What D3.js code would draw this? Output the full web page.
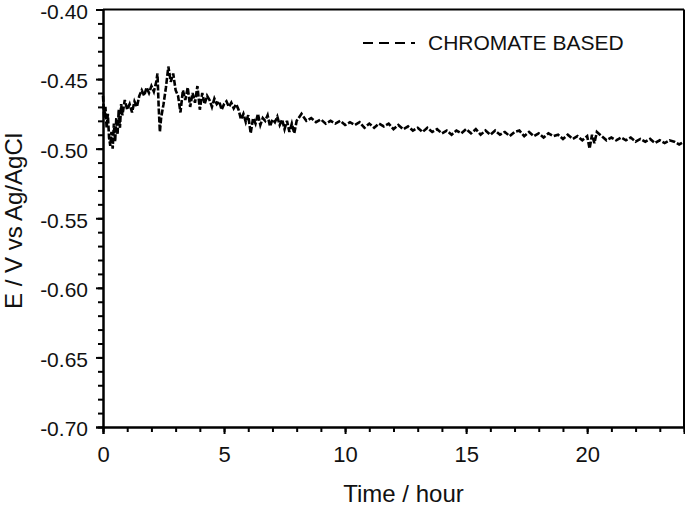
<!DOCTYPE html>
<html>
<head>
<meta charset="utf-8">
<script src="https://cdn.jsdelivr.net/npm/d3@7"></script>
<style>
  body { margin: 0; background: #fff; }
  text { font-family: "Liberation Sans", Arial, sans-serif; fill: #111; }
</style>
</head>
<body>
<div id="chart"></div>
<script>
// time in hours
var time_h = [0.0,0.05,0.1,0.15,0.2,0.25,0.3,0.35,0.4,0.45,0.5,0.55,0.6,0.65,0.7,0.75,0.8,0.9,1.0,1.1,
  1.2,1.3,1.4,1.5,1.6,1.7,1.8,1.9,2.0,2.1,2.2,2.25,2.3,2.35,2.4,2.5,2.6,2.7,2.8,2.9,
  3.0,3.1,3.2,3.3,3.4,3.5,3.6,3.7,3.8,3.9,4.0,4.1,4.2,4.3,4.4,4.5,4.6,4.7,4.8,4.9,
  5.0,5.1,5.2,5.3,5.4,5.5,5.6,5.7,5.8,5.9,6.0,6.1,6.2,6.3,6.4,6.5,6.6,6.7,6.8,6.9,
  7.0,7.1,7.2,7.3,7.4,7.5,7.6,7.7,7.8,7.9,8.0,8.2,8.4,8.6,8.8,9.0,9.2,9.4,9.6,9.8,
  10.0,10.2,10.4,10.6,10.8,11.0,11.2,11.4,11.6,11.8,12.0,12.2,12.4,12.6,12.8,13.0,13.2,13.4,13.6,13.8,
  14.0,14.2,14.4,14.6,14.8,15.0,15.2,15.4,15.6,15.8,16.0,16.2,16.4,16.6,16.8,17.0,17.2,17.4,17.6,17.8,
  18.0,18.2,18.4,18.6,18.8,19.0,19.2,19.4,19.6,19.8,20.0,20.1,20.2,20.3,20.4,20.6,20.8,21.0,21.2,21.4,
  21.6,21.8,22.0,22.2,22.4,22.6,22.8,23.0,23.2,23.4,23.6,23.8,24.0];
// potential, V vs Ag/AgCl
var chromate = [-0.462,-0.478,-0.470,-0.485,-0.475,-0.492,-0.498,-0.488,-0.500,-0.482,-0.495,-0.478,-0.490,-0.472,-0.485,-0.468,-0.476,-0.465,-0.472,-0.468,
  -0.474,-0.466,-0.470,-0.462,-0.458,-0.462,-0.456,-0.460,-0.455,-0.459,-0.452,-0.446,-0.470,-0.488,-0.478,-0.468,-0.456,-0.441,-0.452,-0.446,
  -0.458,-0.462,-0.474,-0.458,-0.465,-0.456,-0.470,-0.460,-0.467,-0.455,-0.472,-0.460,-0.468,-0.462,-0.465,-0.470,-0.464,-0.468,-0.466,-0.472,
  -0.468,-0.466,-0.470,-0.467,-0.471,-0.468,-0.472,-0.479,-0.475,-0.481,-0.476,-0.489,-0.478,-0.482,-0.475,-0.483,-0.478,-0.480,-0.476,-0.484,
  -0.479,-0.481,-0.477,-0.483,-0.479,-0.486,-0.480,-0.488,-0.482,-0.489,-0.480,-0.475,-0.480,-0.478,-0.481,-0.479,-0.482,-0.480,-0.482,-0.480,
  -0.483,-0.481,-0.483,-0.481,-0.485,-0.482,-0.485,-0.482,-0.484,-0.482,-0.486,-0.483,-0.486,-0.484,-0.487,-0.485,-0.488,-0.485,-0.488,-0.486,
  -0.489,-0.487,-0.490,-0.487,-0.489,-0.486,-0.489,-0.486,-0.490,-0.487,-0.490,-0.487,-0.490,-0.488,-0.491,-0.488,-0.487,-0.491,-0.488,-0.491,
  -0.489,-0.492,-0.489,-0.491,-0.490,-0.493,-0.490,-0.493,-0.491,-0.494,-0.491,-0.500,-0.490,-0.496,-0.488,-0.491,-0.494,-0.492,-0.494,-0.492,
  -0.494,-0.492,-0.495,-0.493,-0.495,-0.493,-0.496,-0.494,-0.496,-0.494,-0.495,-0.497,-0.495];
var x_ticks = [0,5,10,15,20];
var y_ticks = [-0.70,-0.65,-0.60,-0.55,-0.50,-0.45,-0.40];
var series_name = "CHROMATE BASED";

var W = 685, H = 508;
var plot_l = 103, plot_t = 9.5, plot_r = 684, plot_b = 427;

var svg = d3.select("#chart").append("svg")
  .attr("width", W).attr("height", H);

var x = d3.scaleLinear().domain([0, 24]).range([plot_l, plot_r]);
var y = d3.scaleLinear().domain([-0.70, -0.40]).range([plot_b, plot_t]);

// frame (top and right)
svg.append("line").attr("x1", plot_l).attr("x2", plot_r).attr("y1", plot_t).attr("y2", plot_t)
  .attr("stroke", "#000").attr("stroke-width", 2);
svg.append("line").attr("x1", plot_r).attr("x2", plot_r).attr("y1", plot_t).attr("y2", plot_b)
  .attr("stroke", "#000").attr("stroke-width", 2);

// minor + major ticks
var gx = svg.append("g").attr("transform", "translate(0," + plot_b + ")");
gx.call(d3.axisBottom(x).tickValues(d3.range(1, 24)).tickSize(5).tickFormat(""));
var gx2 = svg.append("g").attr("transform", "translate(0," + plot_b + ")");
gx2.call(d3.axisBottom(x).tickValues(x_ticks).tickSize(7).tickPadding(12).tickFormat(d3.format("d")));
gx2.selectAll("text").style("font-size", "22px").attr("fill", "#111");

var gy = svg.append("g").attr("transform", "translate(" + plot_l + ",0)");
gy.call(d3.axisLeft(y).tickValues(d3.range(-0.69, -0.40, 0.01)).tickSize(5).tickFormat(""));
var gy2 = svg.append("g").attr("transform", "translate(" + plot_l + ",0)");
gy2.call(d3.axisLeft(y).tickValues(y_ticks).tickSize(7).tickPadding(8)
  .tickFormat(function(d) { return d.toFixed(2); }));
gy2.selectAll("text").style("font-size", "21px").attr("fill", "#111").attr("dy", "0.42em");

svg.selectAll(".domain").attr("stroke", "#000").attr("stroke-width", 2);
svg.selectAll(".tick line").attr("stroke", "#000").attr("stroke-width", 2);

// data line
var pts = time_h.map(function(t, i) { return [t, chromate[i]]; });
var line = d3.line().x(function(d) { return x(d[0]); }).y(function(d) { return y(d[1]); });
svg.append("path").datum(pts)
  .attr("d", line)
  .attr("fill", "none")
  .attr("stroke", "#000")
  .attr("stroke-width", 2.6)
  .attr("stroke-dasharray", "6,2");

// legend
svg.append("line").attr("x1", 363).attr("x2", 415).attr("y1", 43).attr("y2", 43)
  .attr("stroke", "#000").attr("stroke-width", 2.2).attr("stroke-dasharray", "10,6");
svg.append("text").attr("x", 428).attr("y", 50).style("font-size", "21px").text(series_name);

// axis titles
svg.append("text").attr("x", (plot_l + plot_r) / 2 + 10).attr("y", 502)
  .attr("text-anchor", "middle").style("font-size", "24px").text("Time / hour");
svg.append("text").attr("transform", "translate(22,221) rotate(-90)")
  .attr("text-anchor", "middle").style("font-size", "24px").text("E / V vs Ag/AgCl");
</script>
</body>
</html>
